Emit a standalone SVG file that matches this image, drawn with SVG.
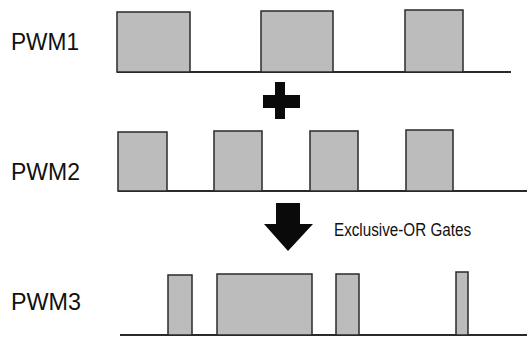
<svg xmlns="http://www.w3.org/2000/svg" width="527" height="338" viewBox="0 0 527 338">
<style>
.p{fill:#bcbcbc;stroke:#2a2a2a;stroke-width:1.5}
.b{stroke:#2a2a2a;stroke-width:1.8;fill:none}
.lbl{font-family:"Liberation Sans",Arial,sans-serif;font-size:24px;fill:#111}
.s{fill:#0a0a0a}
</style>
<rect width="527" height="338" fill="#fff"/>
<g id="pwm1">
<text class="lbl" x="11" y="50" textLength="68" lengthAdjust="spacingAndGlyphs">PWM1</text>
<line class="b" x1="117" y1="72" x2="511" y2="72"/>
<rect class="p" x="117" y="12" width="73" height="60"/>
<rect class="p" x="261" y="11" width="72" height="61"/>
<rect class="p" x="405" y="10" width="58" height="62"/>
</g>
<g id="plus">
<rect class="s" x="275" y="82" width="10" height="37"/>
<rect class="s" x="263" y="95" width="37" height="13"/>
</g>
<g id="pwm2">
<text class="lbl" x="11" y="180" textLength="69" lengthAdjust="spacingAndGlyphs">PWM2</text>
<line class="b" x1="118" y1="191" x2="527" y2="191"/>
<rect class="p" x="118" y="132" width="49" height="59"/>
<rect class="p" x="214" y="131" width="48" height="60"/>
<rect class="p" x="310" y="131" width="48" height="60"/>
<rect class="p" x="406" y="130" width="47" height="61"/>
</g>
<g id="arrow">
<polygon class="s" points="276,203 300,203 300,224 313,224 288,251 264,224 276,224"/>
<text x="334" y="236" font-family="'Liberation Sans',Arial,sans-serif" font-size="17.5" fill="#111" textLength="137" lengthAdjust="spacingAndGlyphs">Exclusive-OR Gates</text>
</g>
<g id="pwm3">
<text class="lbl" x="11" y="310" textLength="70" lengthAdjust="spacingAndGlyphs">PWM3</text>
<line class="b" x1="120" y1="335" x2="527" y2="335"/>
<rect class="p" x="168" y="275" width="24" height="60"/>
<rect class="p" x="217" y="274" width="95" height="61"/>
<rect class="p" x="336" y="274" width="23" height="61"/>
<rect class="p" x="456" y="272" width="12" height="63"/>
</g>
</svg>
